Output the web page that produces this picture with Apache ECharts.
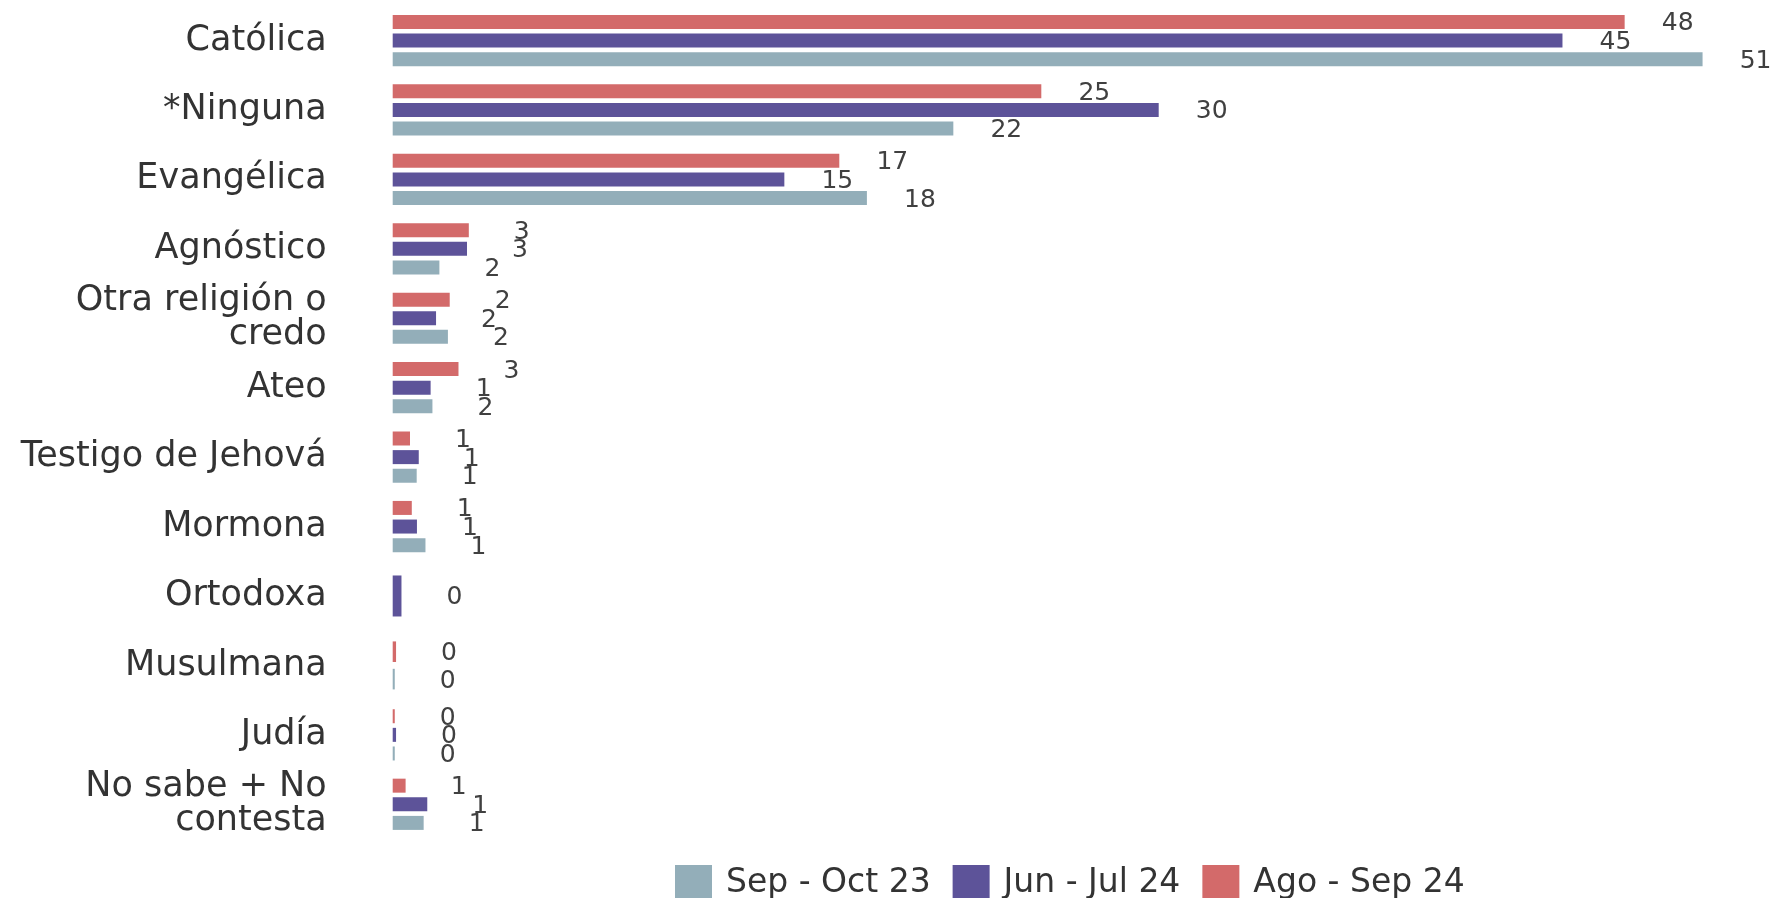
<!DOCTYPE html>
<html>
<head>
<meta charset="utf-8">
<script src="https://cdn.jsdelivr.net/npm/echarts@6/dist/echarts.min.js"></script>
<style>
  html, body { margin: 0; padding: 0; background: #ffffff; }
  #chart { width: 1773px; height: 898px; }
</style>
</head>
<body>
<div id="chart"></div>
<script>
// ---- data ----
const categories = [
  'Católica', '*Ninguna', 'Evangélica', 'Agnóstico', 'Otra religión o\ncredo', 'Ateo',
  'Testigo de Jehová', 'Mormona', 'Ortodoxa', 'Musulmana', 'Judía', 'No sabe + No\ncontesta'
];
const seriesNames = ['Sep - Oct 23', 'Jun - Jul 24', 'Ago - Sep 24'];
const sepOct23 = [50.77, 21.73, 18.38, 1.81, 2.14, 1.54, 0.93, 1.27, null, 0.08, 0.08, 1.20];
const junJul24 = [45.34, 29.69, 15.18, 2.88, 1.68, 1.47, 1.01, 0.94, 0.34, null, 0.13, 1.34];
const agoSep24 = [47.75, 25.14, 17.31, 2.95, 2.21, 2.55, 0.67, 0.74, null, 0.13, 0.08, 0.50];

const colors = { 'Sep - Oct 23': '#93aeb9', 'Jun - Jul 24': '#5d5399', 'Ago - Sep 24': '#d36a6a' };

// visual order inside a group, top to bottom
const groups = [
  { name: seriesNames[2], data: agoSep24 },
  { name: seriesNames[1], data: junJul24 },
  { name: seriesNames[0], data: sepOct23 }
];

const counts = categories.map((c, i) => groups.filter(g => g.data[i] != null).length);

const labelCfg = {
  show: true,
  position: 'right',
  distance: 53,
  align: 'center',
  offset: [0, 2],
  fontFamily: 'DejaVu Sans',
  fontSize: 25,
  color: '#404040',
  formatter: p => String(Math.round(p.value))
};

const series = [];
// layouts: number of present bars in a category -> axis index and bar thickness
const layouts = [
  { n: 3, axis: 0, width: 14, gap: '33%' },
  { n: 2, axis: 1, width: 20.6, gap: '33%' },
  { n: 1, axis: 2, width: 41, gap: '0%', stack: 'single' }
];
layouts.forEach(L => {
  groups.forEach(g => {
    const d = g.data.map((v, i) => (counts[i] === L.n ? v : null));
    if (L.axis !== 0 && d.every(v => v == null)) return;
    const s = {
      name: g.name,
      type: 'bar',
      yAxisIndex: L.axis,
      data: d,
      barWidth: L.width,
      barGap: L.gap,
      itemStyle: { color: colors[g.name] },
      label: labelCfg,
      emphasis: { disabled: true },
      animation: false
    };
    if (L.stack) s.stack = L.stack;
    series.push(s);
  });
});

const hiddenAxis = () => ({ type: 'category', data: categories, inverse: true, show: false });

const chart = echarts.init(document.getElementById('chart'), null, { renderer: 'canvas' });
chart.setOption({
  backgroundColor: '#ffffff',
  animation: false,
  grid: { left: 392.7, top: 5.8, right: 38.7, bottom: 59, containLabel: false, outerBoundsMode: 'none' },
  legend: {
    data: seriesNames,
    left: 670,
    top: 860,
    icon: 'rect',
    itemWidth: 37,
    itemHeight: 36,
    itemGap: 22,
    textStyle: { fontFamily: 'DejaVu Sans', fontSize: 33, color: '#333333', padding: [0, 0, 0, 9] },
    selectedMode: false
  },
  xAxis: {
    type: 'value', min: 0, max: 52, show: false
  },
  yAxis: [
    {
      type: 'category',
      data: categories,
      inverse: true,
      axisLine: { show: false },
      axisTick: { show: false },
      splitLine: { show: false },
      axisLabel: {
        fontFamily: 'DejaVu Sans',
        fontSize: 35,
        lineHeight: 34,
        color: '#333333',
        margin: 66,
        align: 'right',
        backgroundColor: 'rgba(255,255,255,0)',
        padding: [10, 0, 0, 0]
      }
    },
    hiddenAxis(),
    hiddenAxis()
  ],
  series: series
});
</script>
</body>
</html>
